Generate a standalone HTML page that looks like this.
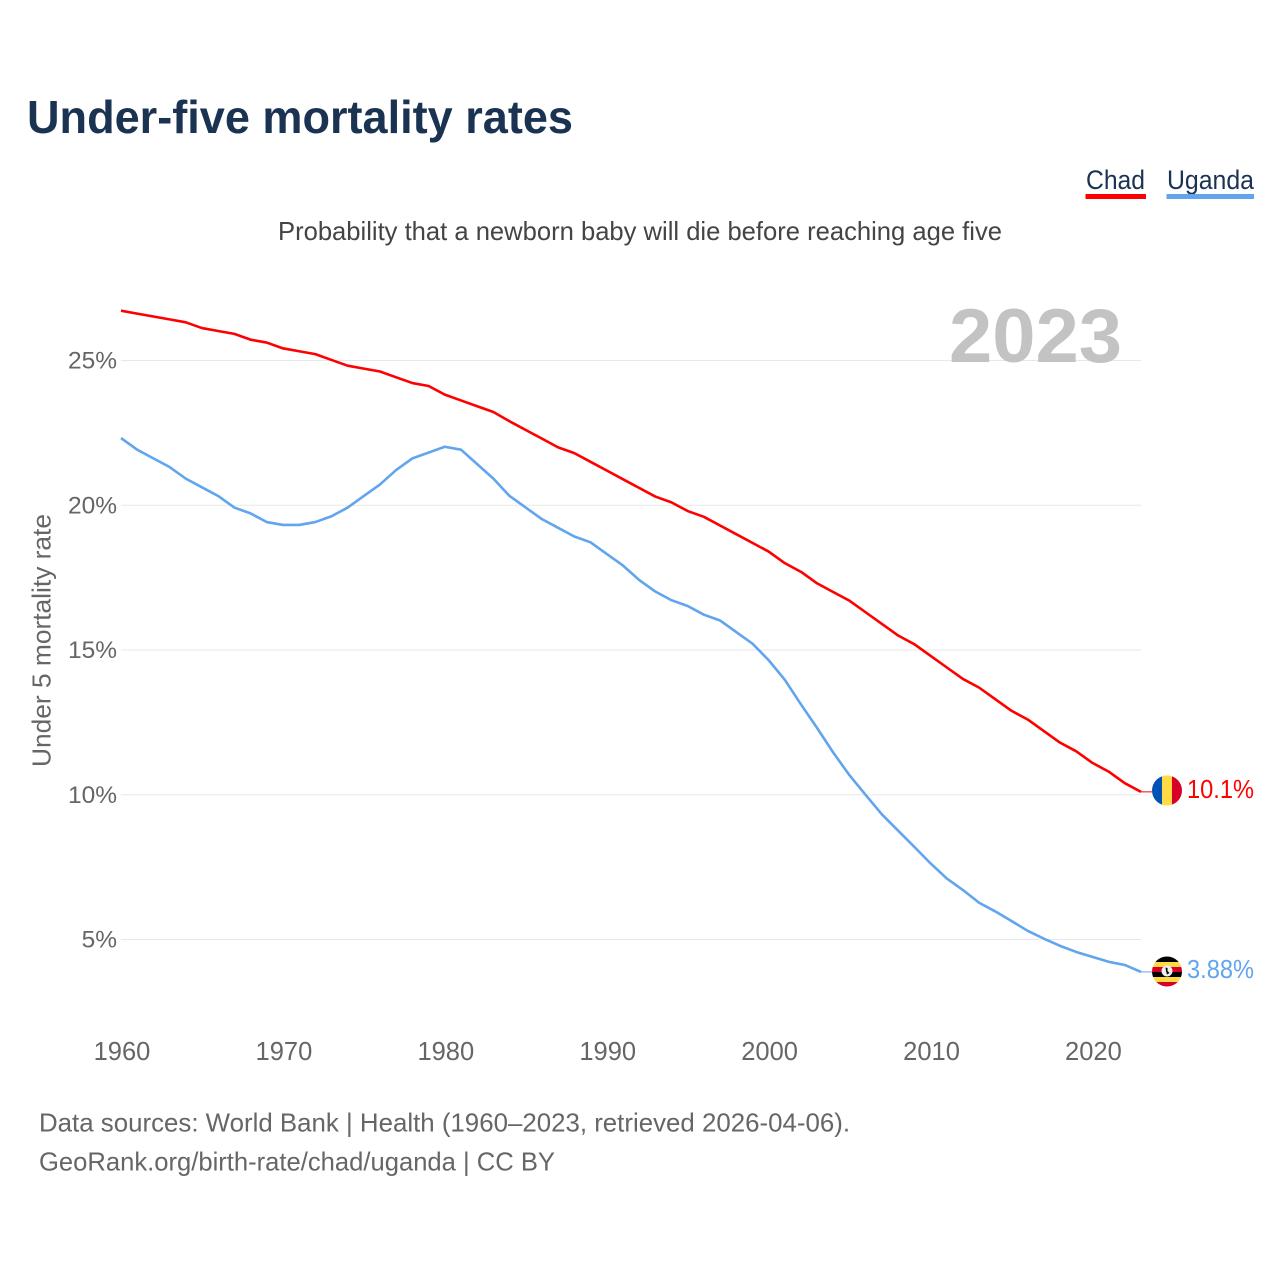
<!DOCTYPE html>
<html lang="en">
<head>
<meta charset="utf-8">
<title>Under-five mortality rates</title>
<style>
html,body{margin:0;padding:0;background:#fff}
svg{display:block}
text{font-family:"Liberation Sans",sans-serif}
</style>
</head>
<body>
<svg id="chart" xmlns="http://www.w3.org/2000/svg" width="1280" height="1280" viewBox="0 0 1280 1280">
  <defs>
    <clipPath id="flag-clip-a"><circle cx="1167" cy="790.5" r="15"/></clipPath>
    <clipPath id="flag-clip-b"><circle cx="1167" cy="971.5" r="15"/></clipPath>
  </defs>
  <rect width="1280" height="1280" fill="#fff"/>
  <text x="27" y="133" font-size="46" font-weight="700" fill="#1a3352" textLength="546" lengthAdjust="spacingAndGlyphs">Under-five mortality rates</text>
  <g>
    <text x="1086" y="189" font-size="27" fill="#1a3352" textLength="59" lengthAdjust="spacingAndGlyphs">Chad</text>
    <rect x="1085.5" y="194" width="60.5" height="5" fill="#ff0000"/>
  </g>
  <g>
    <text x="1167" y="189" font-size="27" fill="#1a3352" textLength="87" lengthAdjust="spacingAndGlyphs">Uganda</text>
    <rect x="1166.5" y="194" width="87.5" height="5" fill="#60a5ee"/>
  </g>
  <text x="278" y="240" font-size="26" fill="#444" textLength="724" lengthAdjust="spacingAndGlyphs">Probability that a newborn baby will die before reaching age five</text>
  <text transform="translate(50.5,767) rotate(-90)" font-size="26" fill="#666" textLength="253" lengthAdjust="spacingAndGlyphs">Under 5 mortality rate</text>
  <g id="grid"></g>
  <g id="yticks"></g>
  <g id="xticks"></g>
  <text x="949" y="362" font-size="76" font-weight="700" fill="#c0c0c0" fill-opacity="0.95" textLength="173" lengthAdjust="spacingAndGlyphs">2023</text>
  <g id="series"></g>
  <g clip-path="url(#flag-clip-a)">
    <rect x="1152" y="775" width="10" height="31" fill="#0052b4"/>
    <rect x="1162" y="775" width="10" height="31" fill="#ffda44"/>
    <rect x="1172" y="775" width="10" height="31" fill="#d80027"/>
  </g>
  <g clip-path="url(#flag-clip-b)">
    <rect x="1152" y="956" width="30" height="6" fill="#000"/>
    <rect x="1152" y="962" width="30" height="5" fill="#ffda44"/>
    <rect x="1152" y="967" width="30" height="5" fill="#d80027"/>
    <rect x="1152" y="972" width="30" height="5" fill="#000"/>
    <rect x="1152" y="977" width="30" height="5" fill="#ffda44"/>
    <rect x="1152" y="982" width="30" height="5" fill="#d80027"/>
    <circle cx="1167" cy="971" r="5.5" fill="#f0f0f0"/>
    <path d="M1165.5 967.5 L1167.5 968 L1167.5 971 L1169.5 973 L1167 974.5 L1166 971 Z" fill="#000"/>
  </g>
  <text x="1187" y="798" font-size="26" fill="#ff0000" textLength="67" lengthAdjust="spacingAndGlyphs">10.1%</text>
  <text x="1187" y="978" font-size="26" fill="#60a5ee" textLength="67" lengthAdjust="spacingAndGlyphs">3.88%</text>
  <text x="39" y="1131.5" font-size="26" fill="#666" textLength="811" lengthAdjust="spacingAndGlyphs">Data sources: World Bank | Health (1960–2023, retrieved 2026-04-06).</text>
  <text x="39" y="1170.5" font-size="26" fill="#666" textLength="516" lengthAdjust="spacingAndGlyphs">GeoRank.org/birth-rate/chad/uganda | CC BY</text>
</svg>
<script>
const startYear = 1960;
const chadValues = [26.72,26.62,26.52,26.42,26.32,26.12,26.02,25.92,25.72,25.62,25.42,25.32,25.22,25.02,24.82,24.72,24.62,24.42,24.22,24.12,23.82,23.62,23.42,23.22,22.9,22.6,22.3,22.0,21.8,21.5,21.2,20.9,20.6,20.3,20.1,19.8,19.6,19.3,19.0,18.7,18.4,18.0,17.7,17.3,17.0,16.7,16.3,15.9,15.5,15.2,14.8,14.4,14.0,13.7,13.3,12.9,12.6,12.2,11.8,11.5,11.1,10.8,10.4,10.1];
const ugandaValues = [22.32,21.92,21.62,21.32,20.92,20.62,20.32,19.92,19.72,19.42,19.32,19.32,19.42,19.62,19.92,20.32,20.72,21.22,21.62,21.82,22.02,21.92,21.42,20.92,20.32,19.92,19.52,19.22,18.92,18.72,18.32,17.92,17.42,17.02,16.72,16.52,16.22,16.02,15.62,15.22,14.65,13.97,13.12,12.3,11.45,10.67,9.99,9.32,8.76,8.2,7.63,7.11,6.71,6.27,5.97,5.64,5.3,5.03,4.78,4.57,4.4,4.23,4.12,3.88];
const yTicks = [5,10,15,20,25];
const xTicks = [1960,1970,1980,1990,2000,2010,2020];

const NS = 'http://www.w3.org/2000/svg';
function xScale(year){ return 121 + (year - 1960) * (1020 / 63); }
function yScale(v){ return 939.5 - (v - 5) * 28.95; }
function make(tag, attrs, parent, txt){
  const el = document.createElementNS(NS, tag);
  for (const k in attrs) el.setAttribute(k, attrs[k]);
  if (txt !== undefined) el.textContent = txt;
  parent.appendChild(el);
  return el;
}
const gridG = document.getElementById('grid');
const yG = document.getElementById('yticks');
const xG = document.getElementById('xticks');
const seriesG = document.getElementById('series');

yTicks.forEach(function(t){
  const y = yScale(t);
  const line = make('line', {x1:121, x2:1141, y1:y, y2:y, stroke:'#e8e8e8', 'stroke-width':1}, gridG);
  
  
  const label = make('text', {x:117, y:y+8, 'text-anchor':'end', 'font-size':24.5, fill:'#666'}, yG, t + '%');
  
  
});
xTicks.forEach(function(t){
  const label = make('text', {x:xScale(t)+1, y:1060, 'text-anchor':'middle', 'font-size':25.5, fill:'#666'}, xG, String(t));
  
  
});
function drawSeries(values, color, name){
  const pts = values.map(function(v, i){ return xScale(startYear + i).toFixed(2) + ',' + yScale(v).toFixed(2); });
  const last = values[values.length - 1];
  const lastX = xScale(startYear + values.length - 1);
  const leader = make('line', {x1:lastX, x2:1152, y1:yScale(last), y2:yScale(last), stroke:color, 'stroke-width':1}, seriesG);
  
  
  const line = make('polyline', {points:pts.join(' '), fill:'none', stroke:color, 'stroke-width':2.6, 'stroke-linejoin':'round'}, seriesG);
  
  
}
drawSeries(chadValues, '#ff0000', 'chad');
drawSeries(ugandaValues, '#60a5ee', 'uganda');
</script>
</body>
</html>
